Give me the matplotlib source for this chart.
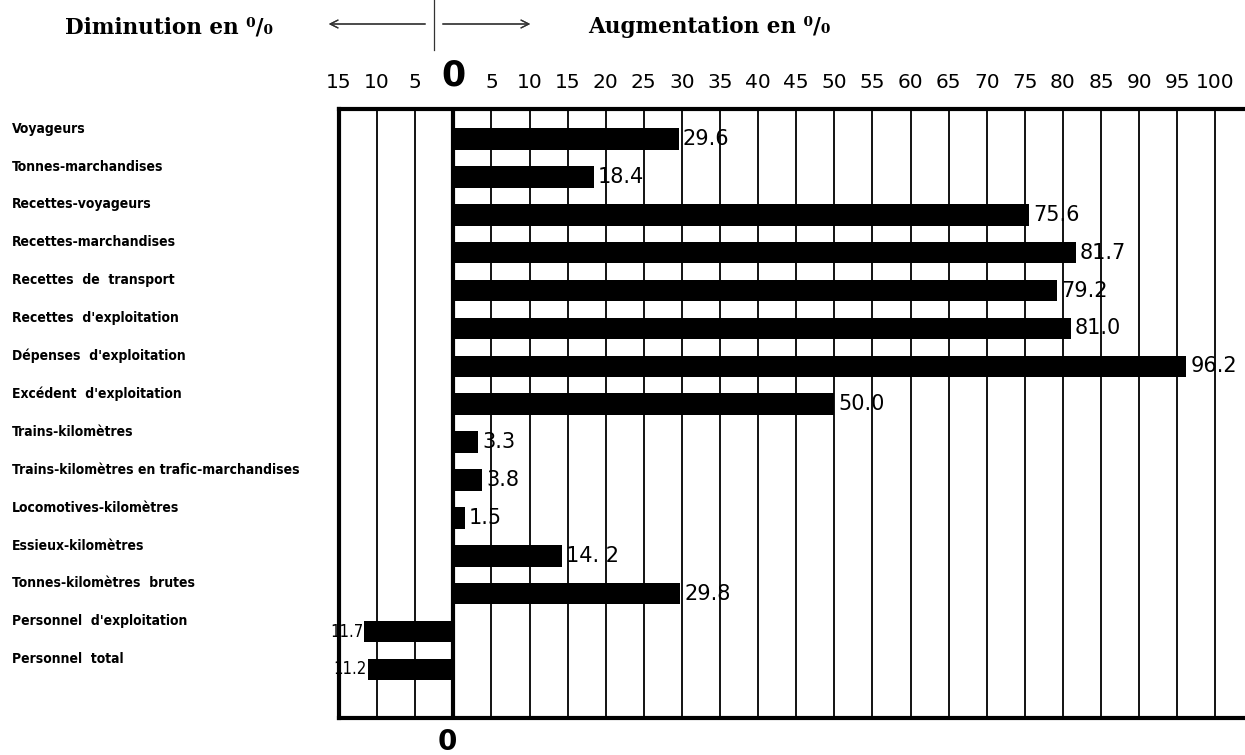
import matplotlib.pyplot as plt
import matplotlib.transforms as mtransforms
from matplotlib.lines import Line2D

# Données du graphique (variation en %)
categories = [
    "Voyageurs",
    "Tonnes-marchandises",
    "Recettes-voyageurs",
    "Recettes-marchandises",
    "Recettes  de  transport",
    "Recettes  d'exploitation",
    "Dépenses  d'exploitation",
    "Excédent  d'exploitation",
    "Trains-kilomètres",
    "Trains-kilomètres en trafic-marchandises",
    "Locomotives-kilomètres",
    "Essieux-kilomètres",
    "Tonnes-kilomètres  brutes",
    "Personnel  d'exploitation",
    "Personnel  total",
]
valeurs = [29.6, 18.4, 75.6, 81.7, 79.2, 81.0, 96.2, 50.0,
           3.3, 3.8, 1.5, 14.2, 29.8, -11.7, -11.2]
etiquettes = ["29.6", "18.4", "75.6", "81.7", "79.2", "81.0", "96.2", "50.0",
              "3.3", "3.8", "1.5", "14. 2", "29.8", "11.7", "11.2"]
graduations = list(range(-15, 101, 5))

W, H = 1245, 755
fig = plt.figure(figsize=(W / 100, H / 100), dpi=100)

# axe : x de -15 a 105 (le bord droit sort de l'image)
px_unite = 7.62
gauche, haut, bas = 339, 109, 718
droite = gauche + 120 * px_unite
ax = fig.add_axes([gauche / W, 1 - bas / H, (droite - gauche) / W, (bas - haut) / H])
ax.set_xlim(-15, 105)
ax.set_ylim(15.28, -0.79)

# grille verticale
for g in graduations[1:]:
    ax.axvline(g, color="black", lw=3.0 if g == 0 else 1.3, zorder=1)

y = list(range(len(categories)))
ax.barh(y, valeurs, height=0.57, color="black", zorder=2)

for sp in ["top", "bottom", "left"]:
    ax.spines[sp].set_linewidth(3)
ax.spines["right"].set_visible(False)

# graduations en haut
ax.set_yticks([])
ax.set_xticks(graduations)
ax.xaxis.tick_top()
ax.tick_params(axis="x", length=0, pad=12, labelsize=14.5)
ax.set_xticklabels([str(abs(g)) for g in graduations])
for t in ax.get_xticklabels():
    if t.get_text() == "0":
        t.set_fontsize(25)
        t.set_fontweight("bold")

# étiquettes des catégories (décalées un peu au-dessus des barres)
police_etroite = dict(family="DejaVu Sans", stretch="condensed")
trans = mtransforms.blended_transform_factory(ax.transAxes, ax.transData)
for i, nom in enumerate(categories):
    ax.text(-0.3576, i - 0.27, nom, transform=trans, ha="left", va="center",
            fontsize=10, fontweight="bold", **police_etroite)

# valeurs au bout des barres
for i, (v, lab) in enumerate(zip(valeurs, etiquettes)):
    if v >= 0:
        ax.annotate(lab, xy=(v, i), xytext=(4, 0), textcoords="offset pixels",
                    ha="left", va="center", fontsize=15)
    else:
        ax.annotate(lab, xy=(v, i), xytext=(-1, 0), textcoords="offset pixels",
                    ha="right", va="center", fontsize=12, **police_etroite)

# 0 en bas
trans_x = mtransforms.blended_transform_factory(ax.transData, ax.transAxes)
ax.text(-0.8, -0.04, "0", transform=trans_x, ha="center", va="center",
        fontsize=20, fontweight="bold")

# en-tête
police_titre = ["DejaVu Serif", "DejaVu Sans"]
fig.text(65 / W, 1 - 27 / H, "Diminution en \u2070/\u2080", ha="left", va="center",
         fontsize=15.5, fontweight="bold", family=police_titre)
fig.text(588 / W, 1 - 27 / H, "Augmentation en \u2070/\u2080", ha="left", va="center",
         fontsize=15.5, fontweight="bold", family=police_titre)
fleche = dict(arrowstyle="->", lw=0.9, color="#333333", mutation_scale=14)
fig.add_artist(plt.annotate("", xy=(326, H - 24), xycoords="figure pixels",
                            xytext=(428, H - 24), textcoords="figure pixels", arrowprops=fleche))
fig.add_artist(plt.annotate("", xy=(533, H - 24), xycoords="figure pixels",
                            xytext=(440, H - 24), textcoords="figure pixels", arrowprops=fleche))
fig.add_artist(Line2D([434 / W, 434 / W], [1, 1 - 50 / H], color="#333333", lw=0.9))

fig.savefig("out.png", dpi=100)
